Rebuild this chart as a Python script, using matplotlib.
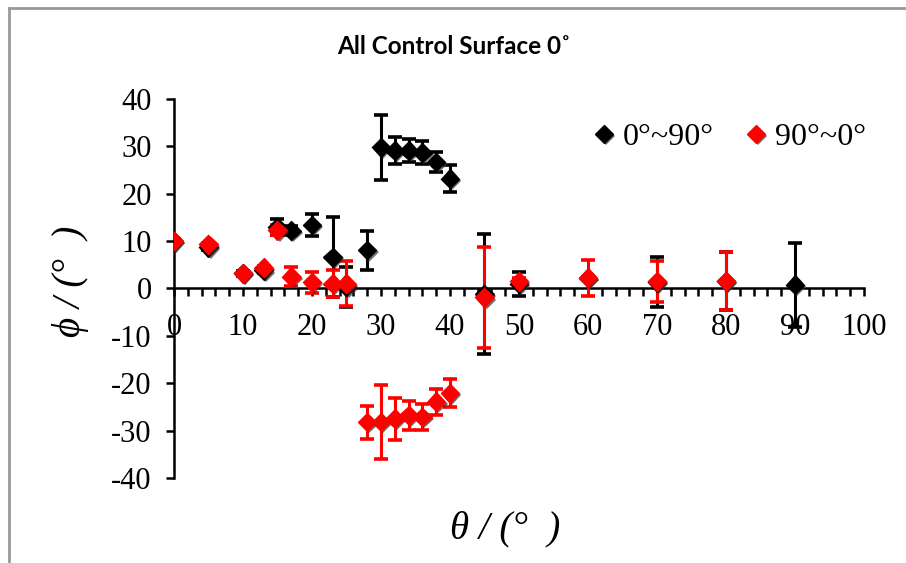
import matplotlib
matplotlib.use("Agg")
import matplotlib.pyplot as plt
import matplotlib.patheffects as pe
from matplotlib.ticker import MultipleLocator

plt.rcParams["axes.unicode_minus"] = False

# 0°~90° sweep (black)
theta_up = [0, 5, 10, 13, 15, 17, 20, 23, 25, 28, 30, 32, 34, 36, 38, 40, 45, 50, 60, 70, 80, 90]
phi_up = [10.0, 8.7, 3.2, 3.8, 12.9, 12.2, 13.4, 6.6, 0.3, 8.1, 29.8, 29.1, 29.1, 28.7, 26.7, 23.2,
          -1.2, 1.0, 2.2, 1.3, 1.5, 0.8]
err_up = [0.5, 0.5, 0.5, 0.6, 1.7, 1.0, 2.3, 8.4, 4.2, 4.1, 6.8, 2.8, 2.4, 2.4, 2.2, 2.9,
          12.6, 2.5, 0.3, 5.3, 6.1, 8.9]

# 90°~0° sweep (red)
theta_dn = [0, 5, 10, 13, 15, 17, 20, 23, 25, 28, 30, 32, 34, 36, 38, 40, 45, 50, 60, 70, 80]
phi_dn = [10.0, 9.3, 3.2, 4.4, 12.3, 2.5, 1.3, 1.0, 1.0, -28.2, -28.2, -27.5, -26.8, -27.1, -23.9, -22.1,
          -1.9, 1.5, 2.3, 1.5, 1.5]
err_dn = [0.3, 0.3, 0.3, 0.4, 1.0, 2.0, 2.2, 2.9, 4.7, 3.5, 7.8, 4.4, 3.0, 2.8, 2.7, 2.9,
          10.6, 0.8, 3.8, 4.3, 6.1]

SERIF = ["Liberation Serif", "DejaVu Serif"]

fig = plt.figure(figsize=(9.06, 5.63), dpi=100)
ax = fig.add_axes([0.192, 0.151, 0.7616, 0.6732])

shadow = [pe.withSimplePatchShadow(offset=(1.5, -1.5), shadow_rgbFace="#333333", alpha=0.7)]
for xs, ys, es, col, lab in [(theta_up, phi_up, err_up, "black", "0°~90°"),
                             (theta_dn, phi_dn, err_dn, "red", "90°~0°")]:
    ax.errorbar(xs, ys, yerr=es, fmt="none", ecolor=col, elinewidth=2.2,
                capsize=4.8, capthick=2.6, zorder=3)
    ax.plot(xs, ys, ls="none", marker="D", ms=9.5, mfc=col, mec=col, label=lab,
            zorder=4, path_effects=shadow)

ax.set_xlim(0, 100)
ax.set_ylim(-40, 40)
ax.spines["left"].set_position(("data", 0))
ax.spines["bottom"].set_position(("data", 0))
ax.spines["top"].set_visible(False)
ax.spines["right"].set_visible(False)
for s in ("left", "bottom"):
    ax.spines[s].set_linewidth(1.8)

ax.xaxis.set_major_locator(MultipleLocator(10))
ax.xaxis.set_minor_locator(MultipleLocator(2))
ax.yaxis.set_major_locator(MultipleLocator(10))
ax.tick_params(axis="x", which="both", direction="out", length=6, width=1.8, pad=12)
ax.tick_params(axis="y", which="major", direction="out", length=6, width=1.8, pad=10)
for lbl in ax.get_xticklabels() + ax.get_yticklabels():
    lbl.set_fontfamily(SERIF)
    lbl.set_fontsize(22)

ax.legend(loc="upper right", bbox_to_anchor=(1.031, 0.988), ncol=2, frameon=False,
          handlelength=0.6, handletextpad=0.3, columnspacing=1.0, borderaxespad=0.2,
          prop={"family": SERIF, "size": 23})

fig.text(0.501, 0.917, "All Control Surface 0˚", ha="center", va="center",
         fontfamily="Lato", fontweight="bold", fontsize=17.5)
fig.text(0.078, 0.5, "ϕ / (°  )", rotation=90, ha="center", va="center",
         fontfamily=SERIF, fontstyle="italic", fontsize=28)
fig.text(0.558, 0.06, "θ / (°  )", ha="center", va="center",
         fontfamily=SERIF, fontstyle="italic", fontsize=28)

# gray chart-area border (top and left edges visible)
fig.add_artist(plt.Line2D([0.01, 1.0], [0.986, 0.986], color="#999999", lw=2, transform=fig.transFigure))
fig.add_artist(plt.Line2D([0.01, 0.01], [0.0, 0.986], color="#999999", lw=2, transform=fig.transFigure))

fig.savefig("out.png", dpi=100)
